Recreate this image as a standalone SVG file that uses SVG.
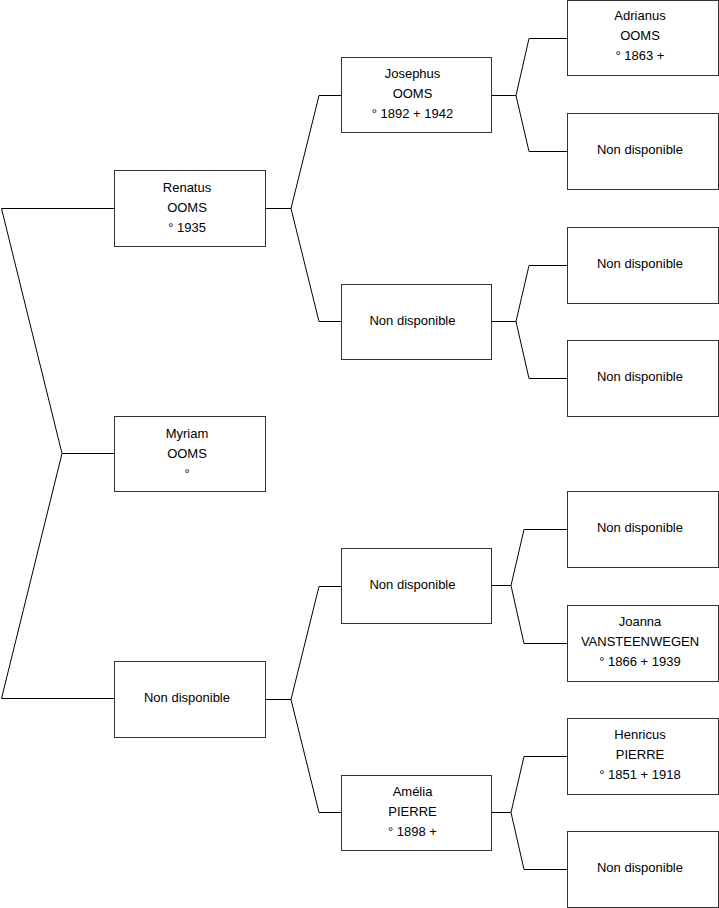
<svg xmlns="http://www.w3.org/2000/svg" width="719" height="908" viewBox="0 0 719 908">
<style>
.b{fill:#fff;stroke:#333;stroke-width:1}
.c{fill:none;stroke:#000;stroke-width:1}
text{font-family:"Liberation Sans",Arial,sans-serif;font-size:13px;fill:#000;text-anchor:middle}
</style>
<rect width="719" height="908" fill="#fff"/>
<g id="connectors">
<path class="c" d="M114,208.5H1.5L62,453.5L1.5,698.5H114M62,453.5H114"/>
<path class="c" d="M265,208.5H291L319,95.5H341M291,208.5L319,321.5H341"/>
<path class="c" d="M265,699.5H291L319,586.5H341M291,699.5L319,812.5H341"/>
<path class="c" d="M491,95.5H516L529,38.5H567M516,95.5L529,151.5H567"/>
<path class="c" d="M491,321.5H516L529,265.5H567M516,321.5L529,378.5H567"/>
<path class="c" d="M491,585.5H511L524,529.5H567M511,585.5L524,643.5H567"/>
<path class="c" d="M491,812.5H511L524,756.5H567M511,812.5L524,869.5H567"/>
</g>
<g id="renatus"><rect class="b" x="114.5" y="170.5" width="151" height="76"/><text x="187" y="191.5">Renatus</text><text x="187" y="211.5">OOMS</text><text x="187" y="231.5">° 1935</text></g>
<g id="myriam"><rect class="b" x="114.5" y="416.5" width="151" height="75"/><text x="187" y="437.5">Myriam</text><text x="187" y="457.5">OOMS</text><text x="187" y="477.5">°</text></g>
<g id="nd1"><rect class="b" x="114.5" y="661.5" width="151" height="76"/><text x="187" y="702.3">Non disponible</text></g>
<g id="josephus"><rect class="b" x="341.5" y="57.5" width="150" height="75"/><text x="412.5" y="78">Josephus</text><text x="412.5" y="98">OOMS</text><text x="412.5" y="118">° 1892 + 1942</text></g>
<g id="nd2"><rect class="b" x="341.5" y="284.5" width="150" height="75"/><text x="412.5" y="324.5">Non disponible</text></g>
<g id="nd3"><rect class="b" x="341.5" y="548.5" width="150" height="75"/><text x="412.5" y="588.5">Non disponible</text></g>
<g id="amelia"><rect class="b" x="341.5" y="775.5" width="150" height="75"/><text x="412.5" y="796">Amélia</text><text x="412.5" y="816">PIERRE</text><text x="412.5" y="836">° 1898 +</text></g>
<g id="adrianus"><rect class="b" x="567.5" y="0.5" width="151" height="75"/><text x="640" y="20.3">Adrianus</text><text x="640" y="40.3">OOMS</text><text x="640" y="60.3">° 1863 +</text></g>
<g id="nd4"><rect class="b" x="567.5" y="113.5" width="151" height="76"/><text x="640" y="154">Non disponible</text></g>
<g id="nd5"><rect class="b" x="567.5" y="227.5" width="151" height="76"/><text x="640" y="268">Non disponible</text></g>
<g id="nd6"><rect class="b" x="567.5" y="340.5" width="151" height="76"/><text x="640" y="381">Non disponible</text></g>
<g id="nd7"><rect class="b" x="567.5" y="491.5" width="151" height="76"/><text x="640" y="532">Non disponible</text></g>
<g id="joanna"><rect class="b" x="567.5" y="605.5" width="151" height="76"/><text x="640" y="626">Joanna</text><text x="640" y="646">VANSTEENWEGEN</text><text x="640" y="666">° 1866 + 1939</text></g>
<g id="henricus"><rect class="b" x="567.5" y="718.5" width="151" height="76"/><text x="640" y="739">Henricus</text><text x="640" y="759">PIERRE</text><text x="640" y="779">° 1851 + 1918</text></g>
<g id="nd8"><rect class="b" x="567.5" y="831.5" width="151" height="76"/><text x="640" y="872.3">Non disponible</text></g>
</svg>
